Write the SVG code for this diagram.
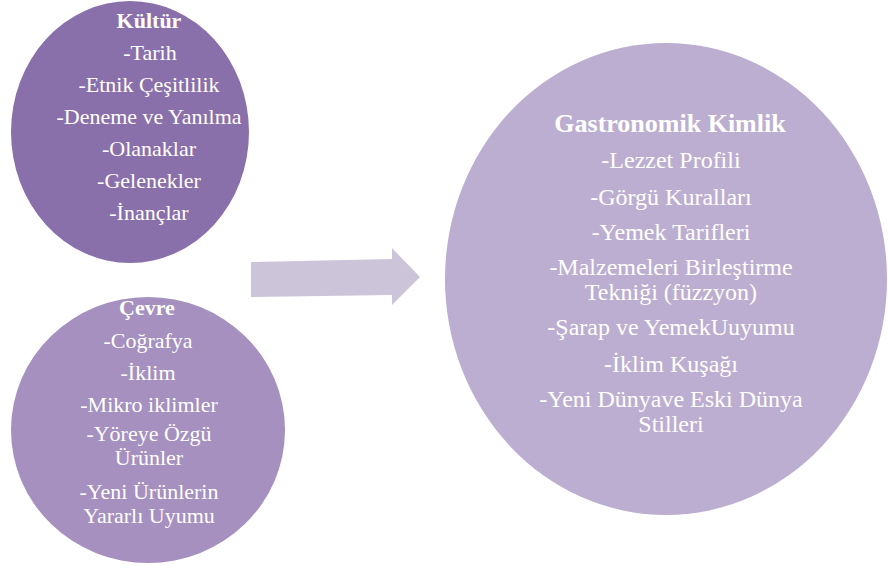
<svg xmlns="http://www.w3.org/2000/svg" width="888" height="570" viewBox="0 0 888 570">
<defs>
<style>
.t{font-size:22px;fill:#ffffff;text-anchor:middle}
.tb{font-weight:bold}
.big{font-size:24px}
.title{font-size:26px;font-weight:bold}
</style>
</defs>
<rect width="888" height="570" fill="#ffffff"/>
<g id="kultur" font-family="Liberation Serif, serif">
<ellipse cx="130" cy="132" rx="119" ry="131" fill="#8a70aa"/>
<text class="t tb" x="149" y="28">Kültür</text>
<text class="t" x="150" y="60">-Tarih</text>
<text class="t" x="149" y="92">-Etnik Çeşitlilik</text>
<text class="t" x="149" y="124">-Deneme ve Yanılma</text>
<text class="t" x="149" y="156">-Olanaklar</text>
<text class="t" x="149" y="188">-Gelenekler</text>
<text class="t" x="149" y="220">-İnançlar</text>
</g>
<g id="cevre" font-family="Liberation Serif, serif">
<ellipse cx="148" cy="430" rx="137" ry="133" fill="#a590bf"/>
<text class="t tb" x="147" y="315">Çevre</text>
<text class="t" x="148" y="348">-Coğrafya</text>
<text class="t" x="148" y="380">-İklim</text>
<text class="t" x="149" y="412">-Mikro iklimler</text>
<text class="t" x="149" y="441">-Yöreye Özgü</text>
<text class="t" x="149" y="465">Ürünler</text>
<text class="t" x="149" y="499">-Yeni Ürünlerin</text>
<text class="t" x="149" y="523">Yararlı Uyumu</text>
</g>
<g id="gastronomik" font-family="Liberation Serif, serif">
<ellipse cx="666" cy="279" rx="221" ry="236" fill="#bcaed0"/>
<text class="t title" x="670" y="132">Gastronomik Kimlik</text>
<text class="t big" x="671" y="168">-Lezzet Profili</text>
<text class="t big" x="671" y="205">-Görgü Kuralları</text>
<text class="t big" x="671" y="240">-Yemek Tarifleri</text>
<text class="t big" x="671" y="275">-Malzemeleri Birleştirme</text>
<text class="t big" x="671" y="300">Tekniği (füzzyon)</text>
<text class="t big" x="671" y="335">-Şarap ve YemekUuyumu</text>
<text class="t big" x="671" y="372">-İklim Kuşağı</text>
<text class="t big" x="671" y="407">-Yeni Dünyave Eski Dünya</text>
<text class="t big" x="671" y="432">Stilleri</text>
</g>
<g id="connectors">
<polygon points="251,262 392,259 392,248 420,277 392,305 392,295 251,297" fill="#ccc5d9"/>
</g>
</svg>
